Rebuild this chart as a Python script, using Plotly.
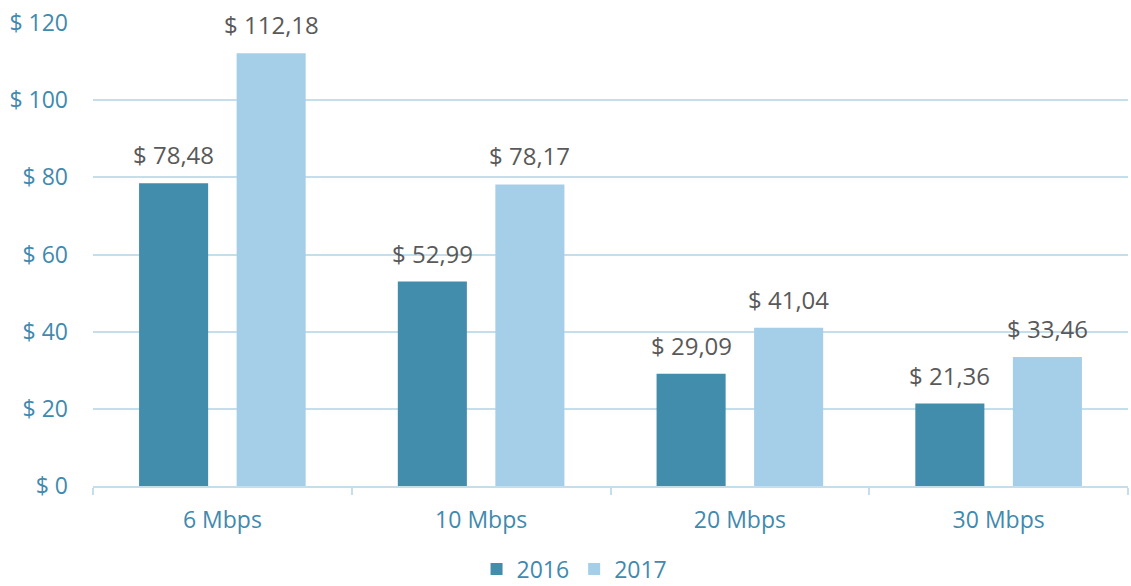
import plotly.graph_objects as go

categories = ["6 Mbps", "10 Mbps", "20 Mbps", "30 Mbps"]
series_names = ["2016", "2017"]
values_2016 = [78.48, 52.99, 29.09, 21.36]
values_2017 = [112.18, 78.17, 41.04, 33.46]
labels_2016 = ["$ 78,48", "$ 52,99", "$ 29,09", "$ 21,36"]
labels_2017 = ["$ 112,18", "$ 78,17", "$ 41,04", "$ 33,46"]
y_tickvals = [0, 20, 40, 60, 80, 100, 120]
y_ticktext = ["$ 0", "$ 20", "$ 40", "$ 60", "$ 80", "$ 100", "$ 120"]

colors = ["#428CAC", "#A5CFE8"]
teal_text = "#3F8AAE"
grid_col = "#C5DEEC"
FONT = "Open Sans"

fig = go.Figure()
for name, vals, col in zip(series_names, [values_2016, values_2017], colors):
    fig.add_trace(go.Bar(x=categories, y=vals, name=name, marker_color=col,
                         marker_line_width=0))

annotations = []
for j, (vals, labs) in enumerate([(values_2016, labels_2016), (values_2017, labels_2017)]):
    for c, v, t in zip(categories, vals, labs):
        annotations.append(dict(x=c, y=v, text=t, showarrow=False, xref="x", yref="y",
                                xshift=(j - 0.5) * 97.5, yshift=10, yanchor="bottom",
                                font=dict(family=FONT, size=24, color="#595959")))

fig.update_layout(
    width=1131, height=586,
    margin=dict(l=93, r=3, t=23, b=100, autoexpand=False),
    paper_bgcolor="white", plot_bgcolor="white",
    barmode="group", bargap=0.246, bargroupgap=0.292,
    font=dict(family=FONT, color=teal_text),
    showlegend=True,
    legend=dict(orientation="h", xref="container", yref="container",
                x=0.508, xanchor="center", y=0.0655, yanchor="top",
                font=dict(family=FONT, size=23, color=teal_text),
                itemwidth=30, tracegroupgap=0),
    annotations=annotations,
)
fig.update_xaxes(showline=True, linecolor=grid_col, linewidth=2,
                 ticks="outside", tickson="boundaries", tickcolor=grid_col, ticklen=7, tickwidth=2,
                 tickfont=dict(family=FONT, size=23, color=teal_text),
                 ticklabelstandoff=12, showgrid=False, automargin=False)
fig.update_yaxes(range=[0, 120], tickvals=y_tickvals, ticktext=y_ticktext,
                 showgrid=True, gridcolor=grid_col, gridwidth=2,
                 zeroline=False, showline=False,
                 tickfont=dict(family=FONT, size=23, color=teal_text),
                 ticklabelstandoff=24, automargin=False)

fig.write_html("out.html", config={"displayModeBar": False},
               post_script="document.body.style.margin='0';document.body.style.overflow='hidden';")
